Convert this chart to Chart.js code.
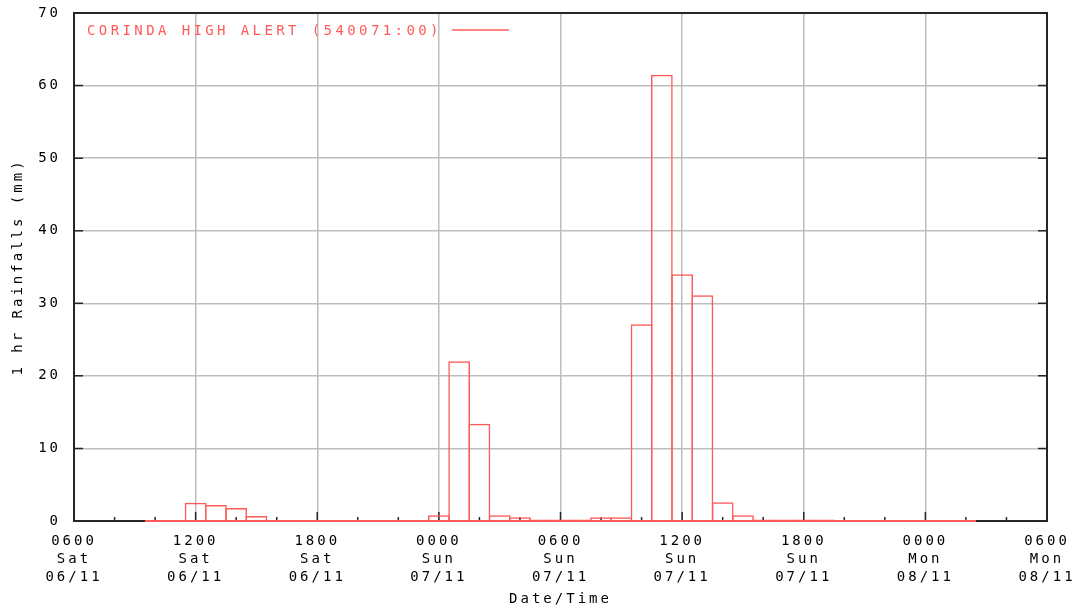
<!DOCTYPE html>
<html>
<head>
<meta charset="utf-8">
<script src="https://cdn.jsdelivr.net/npm/chart.js@4/dist/chart.umd.min.js"></script>
<style>
    html, body { margin: 0; padding: 0; background: #fff; }
    canvas { display: block; }
</style>
</head>
<body>
<canvas id="myChart" width="1079" height="610"></canvas>
<script>
const seriesLabel = 'CORINDA HIGH ALERT (540071:00)';

// hours after 0600 Sat 06/11, every bar covers the hour centred on it
const hours = [4, 5, 6, 7, 8, 9, 10, 11, 12, 13, 14, 15, 16, 17, 18, 19, 20, 21, 22, 23, 24,
    25, 26, 27, 28, 29, 30, 31, 32, 33, 34, 35, 36, 37, 38, 39, 40, 41, 42, 43, 44];
const rainfall = [0, 0, 2.5, 2.2, 1.8, 0.7, 0, 0, 0, 0, 0, 0, 0, 0, 0.8, 22.0, 13.4, 0.8, 0.5, 0.2, 0.2,
    0.2, 0.5, 0.5, 27.1, 61.5, 34.0, 31.1, 2.6, 0.8, 0.2, 0.2, 0.2, 0.2, 0, 0, 0, 0, 0, 0, 0];

const tickTimes = ['0600', '1200', '1800', '0000', '0600', '1200', '1800', '0000', '0600'];
const tickDays = ['Sat', 'Sat', 'Sat', 'Sun', 'Sun', 'Sun', 'Sun', 'Mon', 'Mon'];
const tickDates = ['06/11', '06/11', '06/11', '07/11', '07/11', '07/11', '07/11', '08/11', '08/11'];

const red = '#ff5a5a';
const fontFamily = "'DejaVu Sans Mono', 'Liberation Mono', monospace";

// the original uses a wide bitmap font, so space the letters out
const spacing = {
    id: 'spacing',
    beforeUpdate(chart) { chart.ctx.letterSpacing = '3px'; },
    beforeDraw(chart) { chart.ctx.letterSpacing = '3px'; }
};

// box round the plot and the small inward ticks
const frame = {
    id: 'frame',
    beforeDatasetsDraw(chart) {
        const ctx = chart.ctx;
        const a = chart.chartArea;
        const x = chart.scales.x;
        const y = chart.scales.y;
        ctx.save();
        ctx.strokeStyle = '#262626';
        ctx.lineWidth = 2;
        ctx.strokeRect(a.left, a.top, a.right - a.left, a.bottom - a.top);
        ctx.lineWidth = 1.5;
        ctx.beginPath();
        y.ticks.forEach((t) => {
            const p = y.getPixelForValue(t.value);
            ctx.moveTo(a.left, p);
            ctx.lineTo(a.left + 9, p);
            ctx.moveTo(a.right, p);
            ctx.lineTo(a.right - 9, p);
        });
        for (let h = x.min; h <= x.max; h += 2) {
            const p = x.getPixelForValue(h);
            const len = h % 6 === 0 ? 9 : 4;
            ctx.moveTo(p, a.bottom);
            ctx.lineTo(p, a.bottom - len);
        }
        ctx.stroke();
        ctx.restore();
    }
};

// legend sits inside the plot: text first, then the line sample
const legendLine = {
    id: 'legendLine',
    afterDraw(chart) {
        const ctx = chart.ctx;
        const a = chart.chartArea;
        const label = chart.data.datasets[0].label;
        ctx.save();
        ctx.letterSpacing = '3.4px';
        ctx.font = '14px ' + fontFamily;
        ctx.fillStyle = red;
        ctx.textBaseline = 'middle';
        const tx = a.left + 13;
        const ty = a.top + 18;
        ctx.fillText(label, tx, ty);
        const w = ctx.measureText(label).width;
        ctx.strokeStyle = red;
        ctx.lineWidth = 1.5;
        ctx.beginPath();
        ctx.moveTo(tx + w + 10, ty - 1);
        ctx.lineTo(tx + w + 67, ty - 1);
        ctx.stroke();
        ctx.restore();
    }
};

Chart.defaults.font.family = fontFamily;
Chart.defaults.font.size = 14;
Chart.defaults.color = '#000';

var ctx = document.getElementById('myChart').getContext('2d');
const myChart = new Chart(ctx, {
    type: 'bar',
    data: {
        datasets: [{
            label: seriesLabel,
            data: hours.map((h, i) => ({ x: h, y: rainfall[i] })),
            backgroundColor: 'rgba(0,0,0,0)',
            borderColor: red,
            borderWidth: 1.5,
            borderSkipped: 'bottom',
            // a touch wider than an hour so neighbouring outlines share one edge
            barPercentage: 1.075,
            categoryPercentage: 1,
            clip: false
        }, {
            // zero line under the recorded period
            type: 'line',
            label: 'base',
            data: [
                { x: hours[0] - 0.5, y: 0 },
                { x: hours[hours.length - 1] + 0.5, y: 0 }
            ],
            borderColor: red,
            borderWidth: 2,
            pointRadius: 0,
            clip: false
        }]
    },
    options: {
        responsive: false,
        animation: false,
        layout: { padding: { left: 0, right: 32, top: 13, bottom: 0 } },
        plugins: {
            legend: { display: false },
            tooltip: { enabled: false }
        },
        scales: {
            x: {
                type: 'linear',
                min: 0,
                max: 48,
                offset: false,
                grid: { color: '#bdbdbd', lineWidth: 1.5, drawTicks: false, offset: false },
                border: { display: false },
                ticks: {
                    stepSize: 6,
                    padding: 11,
                    maxRotation: 0,
                    autoSkip: false,
                    font: { size: 14, lineHeight: 1.3 },
                    callback: (v) => {
                        const i = Math.round(v / 6);
                        return [tickTimes[i], tickDays[i], tickDates[i]];
                    }
                },
                title: { display: true, text: 'Date/Time', padding: { top: 0, bottom: 2 } },
                afterFit: (scale) => {
                    scale.height = 89;
                    scale.paddingLeft = 0;
                    scale.paddingRight = 0;
                }
            },
            y: {
                min: 0,
                max: 70,
                grid: { color: '#bdbdbd', lineWidth: 1.5, drawTicks: false },
                border: { display: false },
                ticks: { stepSize: 10, padding: 13 },
                title: { display: true, text: '1 hr Rainfalls (mm)', padding: { top: 10, bottom: 10 } },
                afterFit: (scale) => {
                    scale.width = 74;
                    scale.paddingTop = 0;
                    scale.paddingBottom = 0;
                }
            }
        }
    },
    plugins: [spacing, frame, legendLine]
});
</script>
</body>
</html>
